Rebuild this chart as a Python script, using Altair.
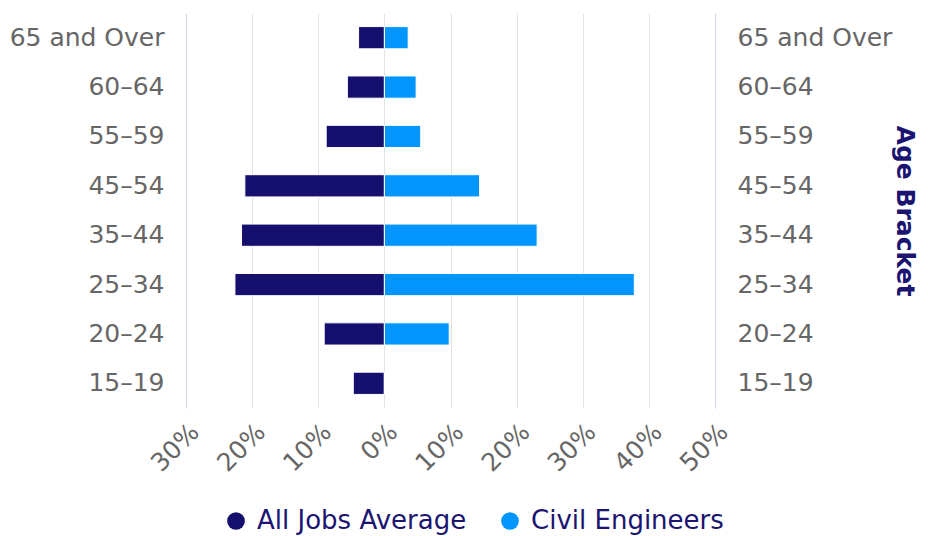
import altair as alt
import pandas as pd

categories = ["65 and Over", "60–64", "55–59", "45–54", "35–44", "25–34", "20–24", "15–19"]
all_jobs = [3.9, 5.6, 8.8, 21.1, 21.6, 22.6, 9.1, 4.7]
civil_engineers = [3.6, 4.8, 5.5, 14.4, 23.1, 37.8, 9.8, 0.0]
series_names = ["All Jobs Average", "Civil Engineers"]
series_colors = ["#150f6e", "#0096fe"]
tick_values = [-30, -20, -10, 0, 10, 20, 30, 40, 50]

rows = []
for c, a, e in zip(categories, all_jobs, civil_engineers):
    rows.append({"age": c, "series": series_names[0], "value": -a})
    rows.append({"age": c, "series": series_names[1], "value": e})
df = pd.DataFrame(rows)

FONT = "DejaVu Sans"
LABEL_COLOR = "#666666"
NAVY = "#1b1470"

xscale = alt.Scale(domain=[-30, 50], nice=False, zero=False)
yscale = alt.Scale(paddingInner=0.55, paddingOuter=0.275)

x_axis = alt.Axis(
    values=tick_values,
    labelExpr="abs(datum.value) + '%'",
    labelAngle=-45,
    grid=True,
    gridColor="#e2e2e2",
    domain=False,
    ticks=False,
    title=None,
    labelFontSize=25,
    labelColor=LABEL_COLOR,
    labelFont=FONT,
    labelPadding=11,
)

bars = alt.Chart(df).mark_bar(stroke="white", strokeWidth=1).encode(
    x=alt.X("value:Q", scale=xscale, axis=x_axis),
    y=alt.Y(
        "age:N",
        sort=categories,
        scale=yscale,
        axis=alt.Axis(
            orient="left",
            title=None,
            domainColor="#ccd6eb",
            ticks=False,
            grid=False,
            labelPadding=22,
            labelFontSize=25,
            labelColor=LABEL_COLOR,
            labelFont=FONT,
            labelLimit=0,
        ),
    ),
    color=alt.Color(
        "series:N",
        scale=alt.Scale(domain=series_names, range=series_colors),
        legend=alt.Legend(
            orient="none",
            legendX=37,
            legendY=495,
            direction="horizontal",
            title=None,
            symbolType="circle",
            symbolSize=314,
            symbolStrokeWidth=0,
            labelFontSize=26,
            labelColor=NAVY,
            labelFont=FONT,
            labelLimit=0,
            labelOffset=8,
            columnPadding=30,
            padding=0,
        ),
    ),
)

right_axis = alt.Chart(df).mark_bar(opacity=0).encode(
    x=alt.X("value:Q", scale=xscale, axis=x_axis),
    y=alt.Y(
        "age:N",
        sort=categories,
        scale=yscale,
        axis=alt.Axis(
            orient="right",
            title="Age Bracket",
            titleFontSize=25,
            titleFont=FONT,
            titleFontWeight="bold",
            titleColor=NAVY,
            titlePadding=0,
            domainColor="#ccd6eb",
            ticks=False,
            grid=False,
            labelPadding=22,
            labelFontSize=25,
            labelColor=LABEL_COLOR,
            labelFont=FONT,
            labelLimit=0,
        ),
    ),
)

chart = (
    alt.layer(bars, right_axis)
    .resolve_axis(y="independent")
    .properties(
        width=529,
        height=395,
        autosize=alt.AutoSizeParams(type="none"),
        padding={"left": 178, "top": 5, "right": 205, "bottom": 128},
    )
    .configure(font=FONT)
    .configure_view(strokeWidth=0)
)

chart.save("out.html", embed_options={"renderer": "svg", "actions": False})
